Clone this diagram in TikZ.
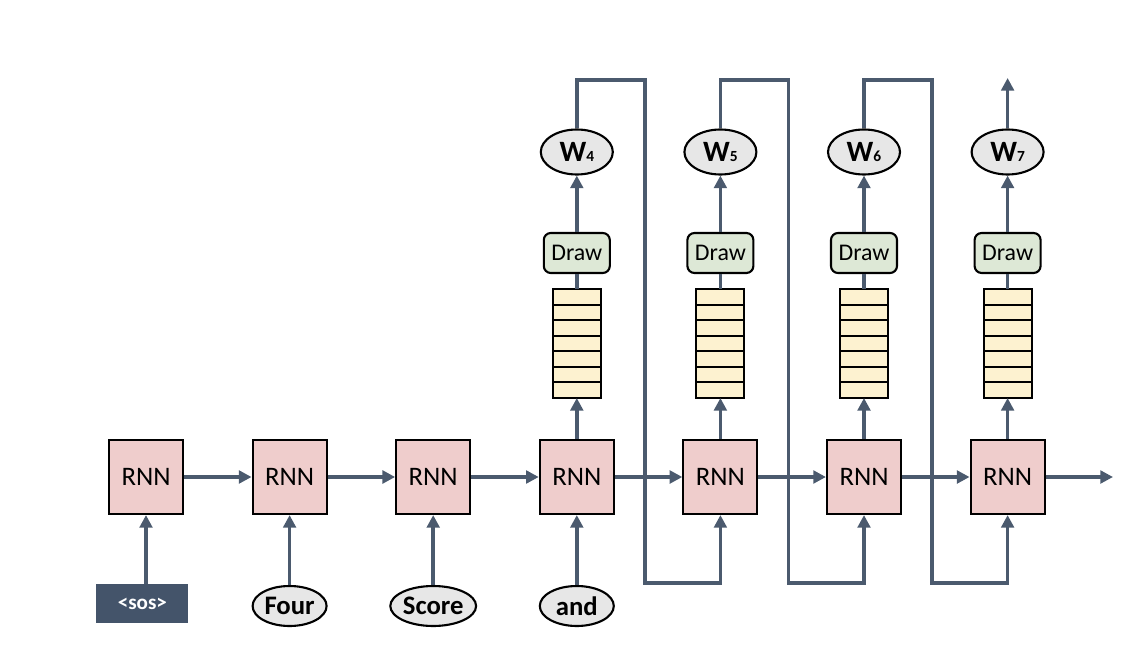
\documentclass[tikz,border=0pt]{standalone}
\usepackage{fontspec}
\setmainfont{Carlito}
\usetikzlibrary{arrows.meta,shapes.geometric}
\definecolor{linkgray}{HTML}{4B5A6E}
\definecolor{rnnpink}{HTML}{EFCDCC}
\definecolor{stackyellow}{HTML}{FDF2D0}
\definecolor{drawgreen}{HTML}{DDE8D6}
\definecolor{wordgray}{HTML}{E7E7E7}
\definecolor{sosblue}{HTML}{44546A}
\tikzset{
  link/.style={color=linkgray, line width=2.6pt},
  rnn/.style={draw=black, line width=1.5pt, fill=rnnpink, minimum size=1.85cm,
    font=\fontsize{19}{22}\selectfont},
  word/.style={ellipse, draw=black, line width=1.5pt, fill=wordgray, inner sep=0pt,
    minimum width=1.85cm, minimum height=1cm, font=\fontsize{19}{22}\selectfont\bfseries},
  wout/.style={word, minimum width=1.8cm, minimum height=1.125cm,
    font=\fontsize{21}{24}\selectfont\bfseries},
  drawbox/.style={draw=black, line width=1.5pt, fill=drawgreen, rounded corners=5pt,
    minimum width=1.65cm, minimum height=1cm, font=\fontsize{17}{20}\selectfont},
  stackbox/.style={draw=black, line width=1.5pt, fill=stackyellow, outer sep=0pt,
    minimum width=1.2cm, minimum height=2.725cm},
}
\newcommand{\wsub}[1]{W\raisebox{-0.5pt}{\fontsize{11}{12}\selectfont #1}}
\begin{document}
\begin{tikzpicture}[>={Triangle[length=9pt,width=9pt]}]
  \useasboundingbox (0,0) rectangle (28.7,16.3);

  % encoder and decoder cells
  \node[rnn] (r1) at (3.65,4.375) {RNN};
  \node[rnn] (r2) at (7.24,4.375) {RNN};
  \node[rnn] (r3) at (10.83,4.375) {RNN};
  \node[rnn] (r4) at (14.42,4.375) {RNN};
  \node[rnn] (r5) at (18.01,4.375) {RNN};
  \node[rnn] (r6) at (21.6,4.375) {RNN};
  \node[rnn] (r7) at (25.19,4.375) {RNN};

  % inputs
  \node[fill=sosblue, text=white, minimum width=2.3cm, minimum height=0.975cm,
    font=\fontsize{15}{18}\selectfont\bfseries] (in1) at (3.56,1.2125) {<sos>};
  \node[word] (in2) at (7.24,1.15) {Four};
  \node[word] (in3) at (10.83,1.15) {Score};
  \node[word] (in4) at (14.42,1.15) {and};

  \draw[link,->] (r1 |- in1.north) -- (r1);
  \draw[link,->] (in2) -- (r2);
  \draw[link,->] (in3) -- (r3);
  \draw[link,->] (in4) -- (r4);

  \draw[link,->] (r1) -- (r2);
  \draw[link,->] (r2) -- (r3);
  \draw[link,->] (r3) -- (r4);
  \draw[link,->] (r4) -- (r5);
  \draw[link,->] (r5) -- (r6);
  \draw[link,->] (r6) -- (r7);
  \coordinate (out) at (27.825,4.375);
  \draw[link,->] (r7) -- (out);

  % softmax stacks, sampling and outputs
  \foreach \n/\x in {4/14.42, 5/18.01, 6/21.6, 7/25.19} {
    \node[stackbox] (s\n) at (\x,7.7125) {};
    \foreach \k in {1,...,6}
      \draw[line width=1.5pt] (s\n.south west) ++(0,\k*0.3893) -- ++(1.2,0);
    \node[drawbox] (d\n) at (\x,9.975) {Draw};
    \node[wout] (w\n) at (\x,12.5) {\wsub{\n}};
    \draw[link,->] (r\n) -- (s\n);
    \draw[link] (s\n) -- (d\n);
    \draw[link,->] (d\n) -- (w\n);
  }

  % feedback of each sampled word
  \coordinate (t4) at (16.12,14.3);
  \coordinate (b4) at (16.12,1.725);
  \coordinate (t5) at (19.71,14.3);
  \coordinate (b5) at (19.71,1.725);
  \coordinate (t6) at (23.3,14.3);
  \coordinate (b6) at (23.3,1.725);
  \draw[link,->] (w4.north) |- (t4) -- (b4) -| (r5.south);
  \draw[link,->] (w5.north) |- (t5) -- (b5) -| (r6.south);
  \draw[link,->] (w6.north) |- (t6) -- (b6) -| (r7.south);
  \coordinate (w7top) at (25.19,14.35);
  \draw[link,->] (w7) -- (w7top);
\end{tikzpicture}
\end{document}
